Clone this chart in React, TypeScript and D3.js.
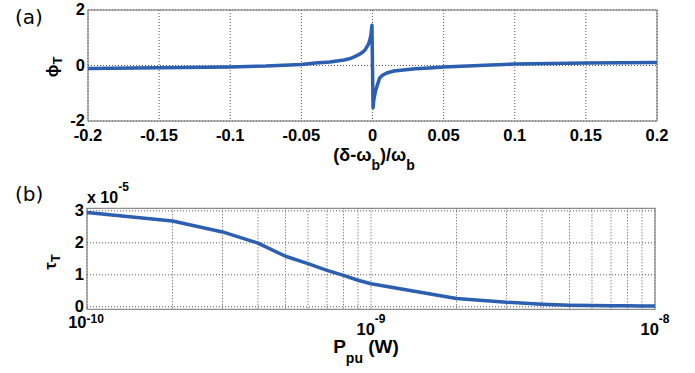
import React from "react";
import * as d3 from "d3";

// Panel (a): phase phi_T vs normalized detuning
const detuning = [-0.2, -0.15, -0.1, -0.075, -0.05, -0.04, -0.03, -0.02, -0.015, -0.01, -0.007, -0.005, -0.003, -0.002, -0.001, -0.0004, 0.0004, 0.001, 0.002, 0.003, 0.005, 0.007, 0.01, 0.015, 0.02, 0.03, 0.04, 0.05, 0.075, 0.1, 0.15, 0.2];
const phiT = [-0.11, -0.085, -0.05, -0.02, 0.04, 0.09, 0.13, 0.2, 0.26, 0.38, 0.48, 0.58, 0.75, 0.9, 1.12, 1.45, -1.52, -1.2, -0.95, -0.77, -0.45, -0.35, -0.27, -0.2, -0.17, -0.12, -0.09, -0.05, 0.0, 0.05, 0.09, 0.11];
const xTicksA = [-0.2, -0.15, -0.1, -0.05, 0, 0.05, 0.1, 0.15, 0.2];
const yTicksA = [-2, 0, 2];

// Panel (b): tau_T (x 1e-5) vs pump power
const pumpPower = [1e-10, 2e-10, 3e-10, 4e-10, 5e-10, 6e-10, 7e-10, 8e-10, 9e-10, 1e-9, 2e-9, 3e-9, 4e-9, 5e-9, 6e-9, 7e-9, 8e-9, 9e-9, 1e-8];
const tauT = [2.95, 2.68, 2.34, 1.99, 1.58, 1.35, 1.14, 0.98, 0.83, 0.72, 0.26, 0.14, 0.08, 0.05, 0.04, 0.03, 0.03, 0.02, 0.02];
const xTicksB = [1e-10, 1e-9, 1e-8];
const xTickExp = ["-10", "-9", "-8"];
const yTicksB = [0, 1, 2, 3];

const LINE = "#2c5fb0";
const GRID = "#555";
const BOX = "#707070";
const FONT = "'Liberation Sans', Arial, Helvetica, sans-serif";
const B: React.CSSProperties = { fontFamily: FONT, fontWeight: 700 };
const R: React.CSSProperties = { fontFamily: "'DejaVu Sans', sans-serif", fontWeight: 400 };

export default function App() {
  const xA = d3.scaleLinear().domain([-0.2, 0.2]).range([88, 657]);
  const yA = d3.scaleLinear().domain([-2, 2]).range([121, 10]);
  const xB = d3.scaleLog().domain([1e-10, 1e-8]).range([87, 655]);
  const yB = d3.scaleLinear().domain([-0.08, 3.08]).range([309.3, 208.3]);

  const lineA = d3
    .line<number>()
    .x((_, i) => xA(detuning[i]))
    .y((d) => yA(d));
  const lineB = d3
    .line<number>()
    .x((_, i) => xB(pumpPower[i]))
    .y((d) => yB(d));

  const minorB: number[] = [];
  [1e-10, 1e-9].forEach((dec) => {
    for (let k = 2; k <= 9; k++) minorB.push(dec * k);
  });

  const [ax0, ax1] = xA.range();
  const [ay1, ay0] = yA.range();
  const [bx0, bx1] = xB.range();
  const [by1, by0] = yB.range();

  return (
    <svg width={695} height={373} style={{ position: "absolute", left: 0, top: 0, background: "#fff" }}>
      {/* Panel (a) */}
      <g>
        <rect x={ax0} y={ay0} width={ax1 - ax0} height={ay1 - ay0} fill="#fff" />
        {xTicksA.map((t) => (
          <line key={"gxa" + t} x1={xA(t)} x2={xA(t)} y1={ay0} y2={ay1} stroke={GRID} strokeDasharray="1,2" />
        ))}
        {yTicksA.map((t) => (
          <line key={"gya" + t} x1={ax0} x2={ax1} y1={yA(t)} y2={yA(t)} stroke={GRID} strokeDasharray="1,2" />
        ))}
        <rect x={ax0} y={ay0} width={ax1 - ax0} height={ay1 - ay0} fill="none" stroke={BOX} strokeWidth={1} />
        <path d={lineA(phiT) || ""} fill="none" stroke={LINE} strokeWidth={3.5} strokeLinejoin="round" />
        {xTicksA.map((t) => (
          <text key={"txa" + t} x={xA(t)} y={141} textAnchor="middle" fontSize={16.5} style={B}>
            {t === 0 ? "0" : String(t)}
          </text>
        ))}
        {yTicksA.map((t) => (
          <text key={"tya" + t} x={85} y={yA(t) + 5} textAnchor="end" fontSize={16.5} style={B}>
            {String(t)}
          </text>
        ))}
        <text x={15} y={24} fontSize={20} style={R}>(a)</text>
        <text transform="translate(58,67) rotate(-90)" textAnchor="middle" fontSize={17} style={B}>
          ϕ<tspan fontSize={13} dy={4}>T</tspan>
        </text>
        <text x={374} y={161} textAnchor="middle" fontSize={18} style={B}>
          (δ-ω<tspan fontSize={14} dy={9}>b</tspan>
          <tspan dy={-9}>)/ω</tspan>
          <tspan fontSize={14} dy={9}>b</tspan>
        </text>
      </g>

      {/* Panel (b) */}
      <g>
        <rect x={bx0} y={by0} width={bx1 - bx0} height={by1 - by0} fill="#fff" />
        {minorB.concat(xTicksB).map((t, i) => (
          <line key={"gxb" + i} x1={xB(t)} x2={xB(t)} y1={by0} y2={by1} stroke={GRID} strokeDasharray="1,2" />
        ))}
        {yTicksB.map((t) => (
          <line key={"gyb" + t} x1={bx0} x2={bx1} y1={yB(t)} y2={yB(t)} stroke={GRID} strokeDasharray="1,2" />
        ))}
        <rect x={bx0} y={by0} width={bx1 - bx0} height={by1 - by0} fill="none" stroke={BOX} strokeWidth={1} />
        <path d={lineB(tauT) || ""} fill="none" stroke={LINE} strokeWidth={3.5} strokeLinejoin="round" />
        {xTicksB.map((t, i) => (
          <text key={"txb" + t} x={xB(t) - (i === 0 ? 1 : 0)} y={i === 0 ? 328 : 335} textAnchor="middle" fontSize={16.5} style={B}>
            10<tspan fontSize={12} dy={i === 0 ? -5 : -12}>{xTickExp[i]}</tspan>
          </text>
        ))}
        {yTicksB.map((t) => (
          <text key={"tyb" + t} x={84} y={yB(t) + 5} textAnchor="end" fontSize={16.5} style={B}>
            {String(t)}
          </text>
        ))}
        <text x={87} y={203} fontSize={16} style={B}>
          x 10<tspan fontSize={12} dy={-12}>-5</tspan>
        </text>
        <text x={15} y={201} fontSize={20} style={R}>(b)</text>
        <text transform="translate(56,262) rotate(-90)" textAnchor="middle" fontSize={17} style={B}>
          τ<tspan fontSize={13} dy={4}>T</tspan>
        </text>
        <text x={366} y={353} textAnchor="middle" fontSize={19} style={B}>
          P<tspan fontSize={14} dy={10}>pu</tspan>
          <tspan dy={-10}> (W)</tspan>
        </text>
      </g>
    </svg>
  );
}
